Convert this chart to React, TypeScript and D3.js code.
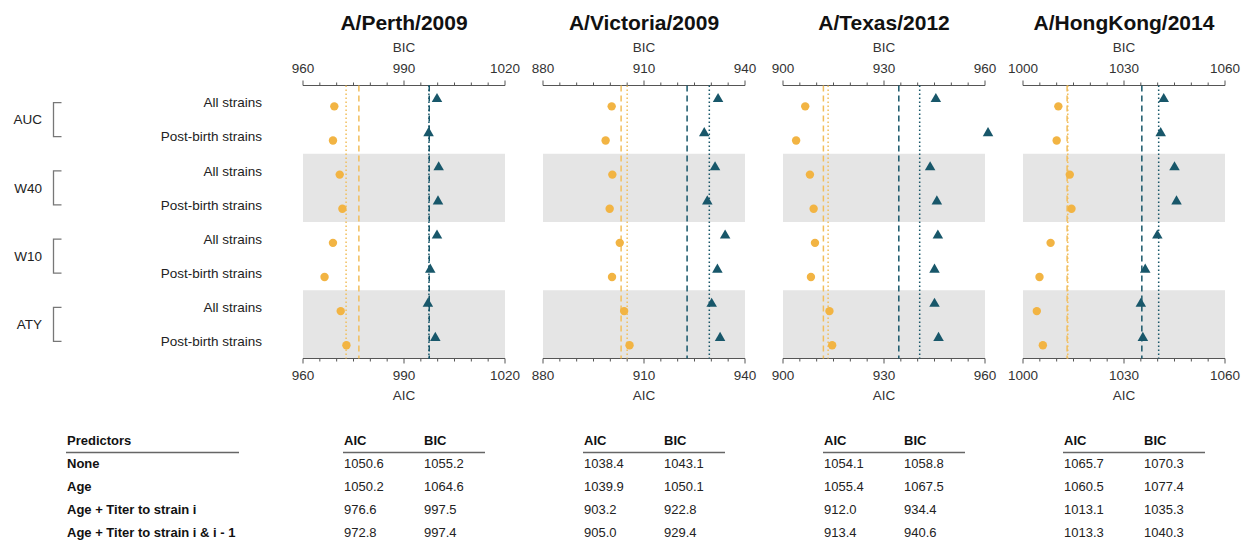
import React from "react";
import * as d3 from "d3";

const strains = ["A/Perth/2009", "A/Victoria/2009", "A/Texas/2012", "A/HongKong/2014"];
const domainMin = [960, 880, 900, 1000];
const domainMax = [1020, 940, 960, 1060];
const groups = ["AUC", "W40", "W10", "ATY"];
const subsets = ["All strains", "Post-birth strains"];

// per strain, 8 rows: AUC all, AUC post, W40 all, W40 post, W10 all, W10 post, ATY all, ATY post
const aicPerth = [969.3, 968.9, 970.9, 971.7, 968.9, 966.4, 971.2, 972.9];
const bicPerth = [999.8, 997.3, 1000.3, 1000.1, 999.8, 997.8, 997.1, 999.3];
const aicVictoria = [900.4, 898.6, 900.6, 899.8, 902.8, 900.5, 904.1, 905.7];
const bicVictoria = [932.0, 927.9, 931.1, 928.8, 934.1, 931.8, 930.1, 932.6];
const aicTexas = [906.6, 903.9, 908.0, 909.1, 909.5, 908.3, 913.8, 914.6];
const bicTexas = [945.4, 960.9, 943.7, 945.7, 946.0, 945.0, 945.0, 946.2];
const aicHongKong = [1010.5, 1010.0, 1013.9, 1014.4, 1008.2, 1004.9, 1004.1, 1005.9];
const bicHongKong = [1041.8, 1040.9, 1045.0, 1045.6, 1039.9, 1036.3, 1035.0, 1035.6];

const predictors = ["None", "Age", "Age + Titer to strain i", "Age + Titer to strain i & i - 1"];
const tableAicPerth = ["1050.6", "1050.2", "976.6", "972.8"];
const tableBicPerth = ["1055.2", "1064.6", "997.5", "997.4"];
const tableAicVictoria = ["1038.4", "1039.9", "903.2", "905.0"];
const tableBicVictoria = ["1043.1", "1050.1", "922.8", "929.4"];
const tableAicTexas = ["1054.1", "1055.4", "912.0", "913.4"];
const tableBicTexas = ["1058.8", "1067.5", "934.4", "940.6"];
const tableAicHongKong = ["1065.7", "1060.5", "1013.1", "1013.3"];
const tableBicHongKong = ["1070.3", "1077.4", "1035.3", "1040.3"];

const aicSeries = [aicPerth, aicVictoria, aicTexas, aicHongKong];
const bicSeries = [bicPerth, bicVictoria, bicTexas, bicHongKong];
const tableAic = [tableAicPerth, tableAicVictoria, tableAicTexas, tableAicHongKong];
const tableBic = [tableBicPerth, tableBicVictoria, tableBicTexas, tableBicHongKong];

const ORANGE = "#F2B443";
const ORANGE_LINE = "#F1BE5C";
const TEAL = "#18576A";
const AXIS = "#555555";
const FONT = "'Liberation Sans', Arial, Helvetica, sans-serif";

const W = 1241;
const H = 542;
const panelLeft0 = 303;
const panelWidth = 202;
const panelStep = 240;
const plotTop = 85.5;
const plotBottom = 358.5;

const rowKeys = d3.range(groups.length * subsets.length);
const y = d3.scaleBand<number>().domain(rowKeys).range([plotTop, plotBottom]).padding(0);

function Panel({ idx }: { idx: number }) {
  const x0 = panelLeft0 + idx * panelStep;
  const x = d3.scaleLinear().domain([domainMin[idx], domainMax[idx]]).range([x0, x0 + panelWidth]);
  const ticks = d3.range(domainMin[idx], domainMax[idx] + 0.01, 5);
  const majors = d3.range(domainMin[idx], domainMax[idx] + 0.01, 30);
  const cx = x0 + panelWidth / 2;
  const aicRef = [parseFloat(tableAic[idx][2]), parseFloat(tableAic[idx][3])];
  const bicRef = [parseFloat(tableBic[idx][2]), parseFloat(tableBic[idx][3])];
  const tri = d3.symbol().type(d3.symbolTriangle).size(48)();
  return (
    <g>
      {/* grey bands */}
      {groups.map((g, gi) =>
        gi % 2 === 1 ? (
          <rect key={g} x={x0} y={y(gi * 2)!} width={panelWidth} height={y.bandwidth() * 2} fill="#E5E5E5" />
        ) : null
      )}
      {/* title */}
      <text x={cx} y={30} textAnchor="middle" fontSize={21} fontWeight="bold" fill="#111">
        {strains[idx]}
      </text>
      <text x={cx} y={52} textAnchor="middle" fontSize={13.5} fill="#333">BIC</text>
      <text x={cx} y={400} textAnchor="middle" fontSize={13.5} fill="#333">AIC</text>
      {/* axes */}
      <line x1={x0} x2={x0 + panelWidth} y1={plotTop} y2={plotTop} stroke={AXIS} strokeWidth={1.2} />
      <line x1={x0} x2={x0 + panelWidth} y1={plotBottom} y2={plotBottom} stroke={AXIS} strokeWidth={1.2} />
      {ticks.map((t) => {
        const major = majors.some((m) => Math.abs(m - t) < 0.01);
        const len = major ? 5 : 3;
        return (
          <g key={t}>
            <line x1={x(t)} x2={x(t)} y1={plotTop} y2={plotTop - len} stroke={AXIS} strokeWidth={1} />
            <line x1={x(t)} x2={x(t)} y1={plotBottom} y2={plotBottom + len} stroke={AXIS} strokeWidth={1} />
          </g>
        );
      })}
      {majors.map((m) => (
        <g key={"l" + m}>
          <text x={x(m)} y={73} textAnchor="middle" fontSize={13.5} fill="#333">{m}</text>
          <text x={x(m)} y={380} textAnchor="middle" fontSize={13.5} fill="#333">{m}</text>
        </g>
      ))}
      {/* reference lines */}
      <line x1={x(aicRef[0])} x2={x(aicRef[0])} y1={plotTop} y2={plotBottom} stroke={ORANGE_LINE} strokeWidth={1.5} strokeDasharray="6,4" />
      <line x1={x(aicRef[1])} x2={x(aicRef[1])} y1={plotTop} y2={plotBottom} stroke={ORANGE_LINE} strokeWidth={1.5} strokeDasharray="1.5,2.5" />
      <line x1={x(bicRef[0])} x2={x(bicRef[0])} y1={plotTop} y2={plotBottom} stroke={TEAL} strokeWidth={1.5} strokeDasharray="6,4" />
      <line x1={x(bicRef[1])} x2={x(bicRef[1])} y1={plotTop} y2={plotBottom} stroke={TEAL} strokeWidth={1.5} strokeDasharray="1.5,2.5" />
      {/* points */}
      {rowKeys.map((r) => {
        const yc = y(r)! + y.bandwidth() / 2;
        return (
          <g key={"p" + r}>
            <circle cx={x(aicSeries[idx][r])} cy={yc + 3.8} r={4.2} fill={ORANGE} />
            <path d={tri!} transform={`translate(${x(bicSeries[idx][r])},${yc - 3.5})`} fill={TEAL} />
          </g>
        );
      })}
    </g>
  );
}

function Table() {
  const rowY = [463, 486, 509, 532];
  return (
    <g fontSize={13} fill="#111">
      <text x={67} y={445} fontWeight="bold">Predictors</text>
      <line x1={66} x2={239} y1={452.5} y2={452.5} stroke="#666" strokeWidth={1.5} />
      {predictors.map((p, i) => (
        <text key={p} x={67} y={rowY[i] + 4.5} fontWeight="bold">{p}</text>
      ))}
      {strains.map((s, si) => {
        const xa = panelLeft0 + si * panelStep + 41;
        const xb = xa + 80;
        return (
          <g key={s}>
            <text x={xa} y={445} fontWeight="bold">AIC</text>
            <text x={xb} y={445} fontWeight="bold">BIC</text>
            <line x1={xa - 1} x2={xa + 141} y1={452.5} y2={452.5} stroke="#666" strokeWidth={1.5} />
            {predictors.map((p, i) => (
              <g key={p}>
                <text x={xa} y={rowY[i] + 4.5} fill="#222">{tableAic[si][i]}</text>
                <text x={xb} y={rowY[i] + 4.5} fill="#222">{tableBic[si][i]}</text>
              </g>
            ))}
          </g>
        );
      })}
    </g>
  );
}

export default function App() {
  return (
    <svg
      width={W}
      height={H}
      viewBox={`0 0 ${W} ${H}`}
      style={{ position: "absolute", left: 0, top: 0, background: "#fff" }}
      fontFamily={FONT}
    >
      <rect x={0} y={0} width={W} height={H} fill="#fff" />
      {/* row labels */}
      {rowKeys.map((r) => (
        <text key={r} x={262} y={y(r)! + y.bandwidth() / 2 + 4.8} textAnchor="end" fontSize={13.5} fill="#222">
          {subsets[r % 2]}
        </text>
      ))}
      {groups.map((g, gi) => {
        const yTop = y(gi * 2)! + y.bandwidth() / 2;
        const yBot = y(gi * 2 + 1)! + y.bandwidth() / 2;
        return (
          <g key={g}>
            <text x={42} y={(yTop + yBot) / 2 + 4.8} textAnchor="end" fontSize={13.5} fill="#222">{g}</text>
            <path d={`M61.5,${yTop} H53.5 V${yBot} H61.5`} fill="none" stroke="#777" strokeWidth={1.3} />
          </g>
        );
      })}
      {strains.map((s, i) => (
        <Panel key={s} idx={i} />
      ))}
      <Table />
    </svg>
  );
}
